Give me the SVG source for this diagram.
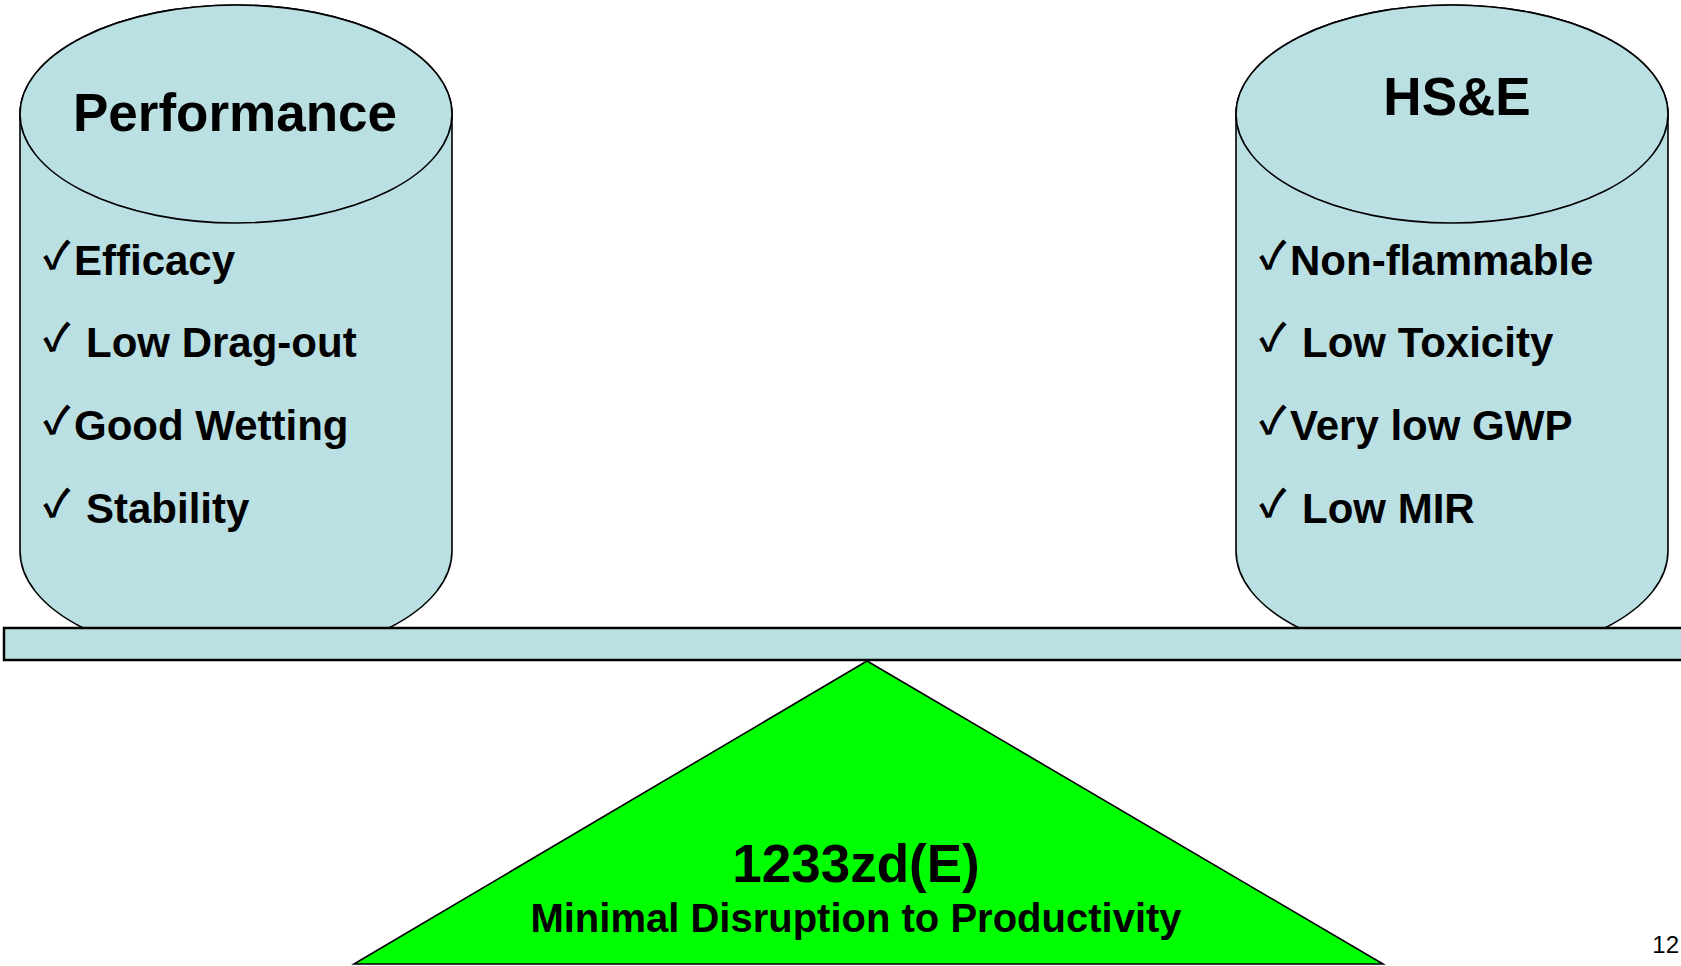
<svg xmlns="http://www.w3.org/2000/svg" width="1681" height="966" viewBox="0 0 1681 966">
<style>
.cyl{fill:#BBE0E3;stroke:#000;stroke-width:1.6}
.beam{fill:#BBE0E3;stroke:#000;stroke-width:2.5}
.fulcrum{fill:#00FF00;stroke:#000;stroke-width:1.6}
.title{font-family:"Liberation Sans",Arial,sans-serif;font-weight:bold;font-size:53px;fill:#000;text-anchor:middle}
.item{font-family:"Liberation Sans",Arial,sans-serif;font-weight:bold;font-size:42px;fill:#000}
.ck{font-family:"Noto Sans CJK JP","DejaVu Sans",sans-serif;font-weight:bold;font-size:38px;fill:#000}
.big{font-family:"Liberation Sans",Arial,sans-serif;font-weight:bold;font-size:53px;fill:#000;text-anchor:middle}
.sub{font-family:"Liberation Sans",Arial,sans-serif;font-weight:bold;font-size:40px;fill:#000;text-anchor:middle}
.pg{font-family:"Liberation Sans",Arial,sans-serif;font-size:24px;fill:#000;text-anchor:end}
</style>
<rect width="1681" height="966" fill="#fff"/>
<g id="performance">
<path class="cyl" d="M20,114 A216,109 0 0 1 452,114 L452,551 A216,109 0 0 1 20,551 Z"/>
<ellipse class="cyl" cx="236" cy="114" rx="216" ry="109"/>
<text class="title" x="235" y="131">Performance</text>
<text class="ck" x="43" y="269">✓</text>
<text class="item" x="74" y="275">Efficacy</text>
<text class="ck" x="43" y="351">✓</text>
<text class="item" x="86" y="357">Low Drag-out</text>
<text class="ck" x="43" y="434">✓</text>
<text class="item" x="74" y="440">Good Wetting</text>
<text class="ck" x="43" y="517">✓</text>
<text class="item" x="86" y="523">Stability</text>
</g>
<g id="hse">
<path class="cyl" d="M1236,114 A216,109 0 0 1 1668,114 L1668,551 A216,109 0 0 1 1236,551 Z"/>
<ellipse class="cyl" cx="1452" cy="114" rx="216" ry="109"/>
<text class="title" x="1457" y="115">HS&amp;E</text>
<text class="ck" x="1259" y="269">✓</text>
<text class="item" x="1290" y="275">Non-flammable</text>
<text class="ck" x="1259" y="351">✓</text>
<text class="item" x="1302" y="357">Low Toxicity</text>
<text class="ck" x="1259" y="434">✓</text>
<text class="item" x="1290" y="440">Very low GWP</text>
<text class="ck" x="1259" y="517">✓</text>
<text class="item" x="1302" y="523">Low MIR</text>
</g>
<g id="beam">
<rect class="beam" x="4" y="628" width="1700" height="32"/>
</g>
<g id="fulcrum">
<polygon class="fulcrum" points="867,661 354,964 1383,964"/>
<text class="big" x="856" y="882">1233zd(E)</text>
<text class="sub" x="856" y="932">Minimal Disruption to Productivity</text>
</g>
<g id="connectors"/>
<g id="page-number">
<text class="pg" x="1679" y="953">12</text>
</g>
</svg>
